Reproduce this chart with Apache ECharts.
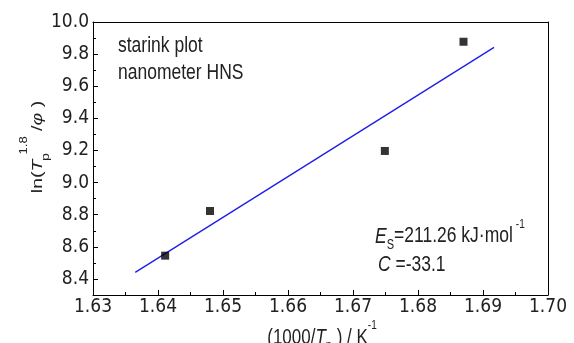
<!DOCTYPE html>
<html><head><meta charset="utf-8">
<script src="https://cdn.jsdelivr.net/npm/echarts@6/dist/echarts.min.js"></script>
<style>html,body{margin:0;padding:0;background:#fff}#c{width:574px;height:343px}</style>
</head><body><div id="c"></div>
<script>
// data
const pointX = [1.6411, 1.6480, 1.6749, 1.6870];
const pointY = [8.545, 8.823, 9.197, 9.877];
const fitX = [1.6365, 1.6917];
const fitY = [8.441, 9.842];
const yMajorTicks = [8.4, 8.6, 8.8, 9.0, 9.2, 9.4, 9.6, 9.8, 10.0];
const yMinorTicks = [8.3, 8.5, 8.7, 8.9, 9.1, 9.3, 9.5, 9.7, 9.9];
const xMin = 1.63, xMax = 1.70, xStep = 0.01;
const yMin = 8.3, yMax = 10.0;

const F = 'Liberation Sans, Arial, sans-serif';
const FN = '"Liberation Sans Narrow", "Arial Narrow", "DejaVu Sans Condensed", sans-serif';
const TC = '#222';
const SY = 1.3; // vertical stretch of the reference text
const chart = echarts.init(document.getElementById('c'));
const lineStyle = {color: '#000', width: 1};
chart.setOption({
  animation: false,
  grid: {left: 93, right: 26, top: 22, bottom: 48, containLabel: false},
  xAxis: [{
    type: 'value', min: xMin, max: xMax, interval: xStep,
    axisLine: {show: true, lineStyle},
    axisTick: {show: true, inside: true, length: 5, lineStyle},
    minorTick: {show: true, splitNumber: 2, length: 3, lineStyle},
    splitLine: {show: false},
    axisLabel: {color: TC, fontSize: 19, fontFamily: FN, margin: 3, formatter: v => v.toFixed(2)}
  }, {
    type: 'value', position: 'top', min: xMin, max: xMax,
    axisLine: {show: true, onZero: false, lineStyle}, axisTick: {show: false}, axisLabel: {show: false}, splitLine: {show: false}
  }],
  yAxis: [{
    type: 'value', min: yMin, max: yMax,
    axisLine: {show: true, lineStyle},
    axisTick: {show: true, inside: true, length: 5, customValues: yMajorTicks, lineStyle},
    splitLine: {show: false},
    axisLabel: {color: TC, fontSize: 19, fontFamily: FN, margin: 4, customValues: yMajorTicks, formatter: v => v.toFixed(1)}
  }, {
    type: 'value', position: 'right', min: yMin, max: yMax,
    axisLine: {show: true, onZero: false, lineStyle}, axisTick: {show: false}, axisLabel: {show: false}, splitLine: {show: false}
  }, {
    type: 'value', position: 'left', min: yMin, max: yMax,
    axisLine: {show: false},
    axisTick: {show: true, inside: true, length: 3, customValues: yMinorTicks, lineStyle},
    axisLabel: {show: false}, splitLine: {show: false}
  }],
  series: [{
    type: 'line', data: fitX.map((x, i) => [x, fitY[i]]), showSymbol: false, symbol: 'none',
    lineStyle: {color: '#1c1ce8', width: 1.3}, z: 2
  }, {
    type: 'scatter', data: pointX.map((x, i) => [x, pointY[i]]), symbol: 'rect', symbolSize: 8,
    itemStyle: {color: '#000'}, z: 3
  }],
  graphic: [
    {type: 'text', x: 118, y: 46, scaleY: SY, style: {text: 'starink plot', fontSize: 17.5, fontFamily: F, fill: TC, verticalAlign: 'middle'}},
    {type: 'text', x: 118, y: 73, scaleY: SY, style: {text: 'nanometer HNS', fontSize: 17.5, fontFamily: F, fill: TC, verticalAlign: 'middle'}},
    {type: 'text', x: 375, y: 231, scaleY: SY, style: {
      text: '{i|E}{sub|S}{n|=211.26 kJ·mol}{sup|-1}', fontFamily: F, fill: TC, verticalAlign: 'middle',
      rich: {
        i: {fontSize: 17.5, fontStyle: 'italic', fontFamily: F, fill: TC, verticalAlign: 'bottom', lineHeight: 26},
        n: {fontSize: 17.5, fontFamily: F, fill: TC, verticalAlign: 'bottom', lineHeight: 26},
        sub: {fontSize: 11, fontFamily: F, fill: TC, verticalAlign: 'bottom', lineHeight: 20, padding: [0, 0, -3, 0]},
        sup: {fontSize: 10, fontFamily: F, fill: TC, verticalAlign: 'top', lineHeight: 14, padding: [3, 0, 0, 3]}
      }}},
    {type: 'text', x: 378, y: 265, scaleY: SY, style: {
      text: '{i|C}{n| =-33.1}', fontFamily: F, verticalAlign: 'middle',
      rich: {i: {fontSize: 17.5, fontStyle: 'italic', fontFamily: F, fill: TC}, n: {fontSize: 17.5, fontFamily: F, fill: TC}}}},
    {type: 'text', x: 32, y: 147, rotation: Math.PI / 2, scaleX: SY, style: {
      text: '{n|ln(}{i|T}{sub|p}{sup|1.8}{n| /}{i|φ}{n| )}', align: 'center', verticalAlign: 'middle', fontFamily: F,
      rich: {
        n: {fontSize: 15, fontFamily: F, fill: TC, lineHeight: 26, verticalAlign: 'bottom'},
        i: {fontSize: 15, fontFamily: F, fontStyle: 'italic', fill: TC, lineHeight: 26, verticalAlign: 'bottom'},
        sub: {fontSize: 11, fontFamily: F, fill: TC, lineHeight: 20, verticalAlign: 'bottom', padding: [0, 0, -6, 0], width: 4},
        sup: {fontSize: 10, fontFamily: F, fill: TC, lineHeight: 14, verticalAlign: 'top'}
      }}},
    {type: 'text', x: 322, y: 334, scaleY: 1.25, style: {
      text: '{n|(1000/}{i|T}{sub|p}{n| ) / K}{sup|-1}', align: 'center', verticalAlign: 'middle', fontFamily: F,
      rich: {
        n: {fontSize: 17, fontFamily: F, fill: TC, lineHeight: 24, verticalAlign: 'bottom'},
        i: {fontSize: 17, fontFamily: F, fontStyle: 'italic', fill: TC, lineHeight: 24, verticalAlign: 'bottom'},
        sub: {fontSize: 11, fontFamily: F, fill: TC, lineHeight: 18, verticalAlign: 'bottom', padding: [0, 0, -3, 0]},
        sup: {fontSize: 10, fontFamily: F, fill: TC, lineHeight: 14, verticalAlign: 'top'}
      }}}
  ]
});
</script></body></html>
